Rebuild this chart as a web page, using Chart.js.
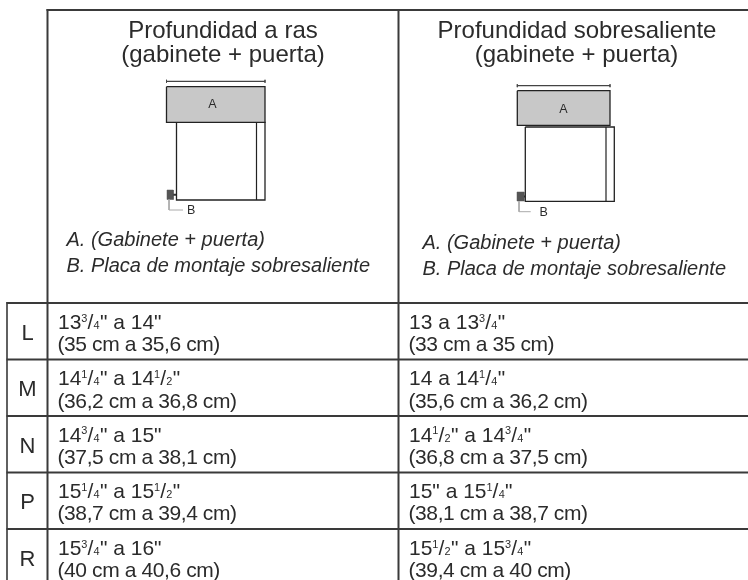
<!DOCTYPE html>
<html><head><meta charset="utf-8">
<style>html,body{margin:0;padding:0;background:#fff}canvas{display:block}</style>
<script src="https://cdn.jsdelivr.net/npm/chart.js@4"></script>
</head><body><canvas id="c" width="748" height="580"></canvas>
<script>
// Table content. {n/d} marks a typeset fraction.
const rowLabels = ['L','M','N','P','R'];
const flushInches = ['13{3/4}" a 14"','14{1/4}" a 14{1/2}"','14{3/4}" a 15"','15{1/4}" a 15{1/2}"','15{3/4}" a 16"'];
const flushCm = ['(35 cm a 35,6 cm)','(36,2 cm a 36,8 cm)','(37,5 cm a 38,1 cm)','(38,7 cm a 39,4 cm)','(40 cm a 40,6 cm)'];
const proudInches = ['13 a 13{3/4}"','14 a 14{1/4}"','14{1/2}" a 14{3/4}"','15" a 15{1/4}"','15{1/2}" a 15{3/4}"'];
const proudCm = ['(33 cm a 35 cm)','(35,6 cm a 36,2 cm)','(36,8 cm a 37,5 cm)','(38,1 cm a 38,7 cm)','(39,4 cm a 40 cm)'];
const headers = [['Profundidad a ras','(gabinete + puerta)'],['Profundidad sobresaliente','(gabinete + puerta)']];
const notes = ['A. (Gabinete + puerta)','B. Placa de montaje sobresaliente'];

// Layout (in the page's scale units)
const INK='#2b2b2b', RULE='#3a3a3a', FONT='"Liberation Sans", Arial, sans-serif';
const rowRules=[303,359.5,416,472.5,529];
const rowBase1=[329,385,441.5,498,555], rowBase2=[351,407.5,464,520,577];
const colX=[47.5,398.5];
const seg=(x0,y0,x1,y1,color=RULE,w=2)=>({type:'line',data:[{x:x0,y:y0},{x:x1,y:y1}],borderColor:color,borderWidth:w,pointRadius:0,fill:false,tension:0,clip:false});
const box=(x0,y0,x1,y1,fill,color='#222',w=1.3)=>({type:'line',data:[{x:x0,y:y0},{x:x1,y:y0},{x:x1,y:y1},{x:x0,y:y1},{x:x0,y:y0}],borderColor:color,borderWidth:w,backgroundColor:fill||'rgba(0,0,0,0)',fill:fill?'shape':false,pointRadius:0,tension:0,clip:false});
function diagram(d){return [
  seg(d.ax0,d.dimY,d.ax1,d.dimY,'#444',1.2),
  seg(d.ax0,d.dimY-1.5,d.ax0,d.dimY+1.5,'#444',0.8),
  seg(d.ax1,d.dimY-1.5,d.ax1,d.dimY+1.5,'#444',0.8),
  box(d.ax0,d.ay0,d.ax1,d.ay1,'#c8c8c8'),
  box(d.cx0,d.cy0,d.cx1,d.cy1,null),
  seg(d.ix,d.cy0,d.ix,d.cy1,'#222',1.2),
  seg(d.lx,d.py1,d.lx,d.ly,'#aaa',1),
  seg(d.lx,d.ly,d.lx1,d.ly,'#aaa',1),
  seg(d.px1,(d.py0+d.py1)/2,d.cx0,(d.py0+d.py1)/2,'#333',2),
  box(d.px0,d.py0,d.px1,d.py1,'#555','#555',0.5)
];}
const d1={dimY:81.3,ax0:166.5,ax1:265,ay0:86.7,ay1:122.3,cx0:176.5,cx1:265,cy0:122.3,cy1:200,ix:256.5,px0:167,px1:173.3,py0:190,py1:199.5,lx:169,ly:210,lx1:183};
const d2={dimY:85.7,ax0:517.3,ax1:610,ay0:90.7,ay1:125.3,cx0:525.3,cx1:614.3,cy0:127,cy1:201.3,ix:606,px0:517,px1:524,py0:192,py1:201,lx:519,ly:211.7,lx1:530.7};

const datasets=[
  seg(46.5,10,748,10),
  ...rowRules.map(y=>seg(6.5,y,748,y)),
  seg(7,302,7,580,RULE,1.6),
  ...colX.map(x=>seg(x,9,x,580)),
  ...diagram(d1),...diagram(d2)
];

function drawRuns(ctx,str,x,y,size){
  const parts=str.split(/(\{\d\/\d\})/);
  ctx.textAlign='left';ctx.textBaseline='alphabetic';
  for(const p of parts){
    if(!p)continue;
    const m=p.match(/\{(\d)\/(\d)\}/);
    if(m){
      const s=size*0.52;
      ctx.font=s+'px '+FONT;ctx.fillText(m[1],x,y-size*0.34);x+=ctx.measureText(m[1]).width;
      ctx.font=size+'px '+FONT;ctx.fillText('/',x,y);x+=ctx.measureText('/').width+0.3;
      ctx.font=s+'px '+FONT;ctx.fillText(m[2],x,y);x+=ctx.measureText(m[2]).width+0.3;
    }else{
      ctx.font=size+'px '+FONT;ctx.fillText(p,x,y);x+=ctx.measureText(p).width;
    }
  }
}
const textPlugin={id:'tableText',afterDatasetsDraw(chart){
  const {ctx,scales:{x:sx,y:sy}}=chart,X=v=>sx.getPixelForValue(v),Y=v=>sy.getPixelForValue(v);
  ctx.save();ctx.fillStyle=INK;ctx.textBaseline='alphabetic';
  const centred=(t,x,y,f)=>{ctx.font=f;ctx.textAlign='center';ctx.fillText(t,X(x),Y(y));};
  const left=(t,x,y,f)=>{ctx.font=f;ctx.textAlign='left';ctx.fillText(t,X(x),Y(y));};
  const hf='24px '+FONT,nf='italic 20px '+FONT,sf='12.5px '+FONT;
  centred(headers[0][0],223,37.5,hf);centred(headers[0][1],223,62,hf);
  centred(headers[1][0],577,37.5,hf);centred(headers[1][1],576.5,62,hf);
  centred('A',212.5,108,sf);left('B',187,213.5,sf);
  centred('A',563.5,112.5,sf);left('B',539.5,215.5,sf);
  left(notes[0],66.5,246,nf);left(notes[1],66.5,272,nf);
  left(notes[0],422.5,248.5,nf);left(notes[1],422.5,274.5,nf);
  rowLabels.forEach((r,i)=>{
    centred(r,27.5,rowBase1[i]+11,'22px '+FONT);
    drawRuns(ctx,flushInches[i],X(58),Y(rowBase1[i]),21);
    drawRuns(ctx,proudInches[i],X(409),Y(rowBase1[i]),21);
    ctx.letterSpacing='-0.4px';
    left(flushCm[i],57.5,rowBase2[i],'21px '+FONT);
    left(proudCm[i],408.5,rowBase2[i],'21px '+FONT);
    ctx.letterSpacing='0px';
  });
  ctx.restore();
}};
new Chart(document.getElementById('c'),{
  type:'line',data:{datasets},plugins:[textPlugin],
  options:{responsive:false,animation:false,parsing:false,normalized:true,
    layout:{padding:0},
    plugins:{legend:{display:false},tooltip:{enabled:false},title:{display:false}},
    scales:{x:{type:'linear',min:0,max:748,display:false},y:{type:'linear',min:0,max:580,reverse:true,display:false}}}
});
</script></body></html>
